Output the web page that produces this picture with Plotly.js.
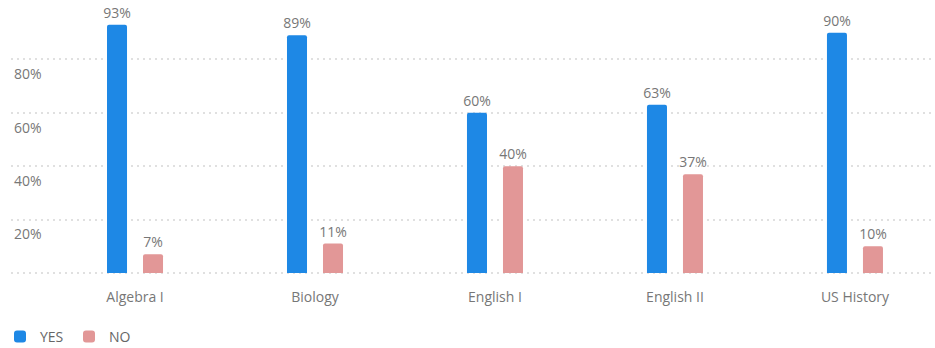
<!DOCTYPE html>
<html>
<head>
<meta charset="utf-8">
<script src="https://cdn.plot.ly/plotly-3.0.1.min.js"></script>
<style>
  html, body { margin: 0; padding: 0; background: #fff; }
  #chart { width: 935px; height: 348px; }
</style>
</head>
<body>
<div id="chart"></div>
<script>
const categories = ["Algebra I", "Biology", "English I", "English II", "US History"];
const yesValues = [93, 89, 60, 63, 90];
const noValues = [7, 11, 40, 37, 10];
const yTickVals = [0, 20, 40, 60, 80];
const yTickText = ["", "20%", "40%", "60%", "80%"];

const textFont = { family: "Open Sans, sans-serif", size: 14, color: "#777777" };

const traces = [
  {
    type: "bar", name: "YES", x: categories, y: yesValues,
    marker: { color: "#1e88e5" },
    text: yesValues.map(v => v + "%"), textposition: "outside", textfont: textFont,
    constraintext: "none", cliponaxis: false, hoverinfo: "none"
  },
  {
    type: "bar", name: "NO", x: categories, y: noValues,
    marker: { color: "#e29797" },
    text: noValues.map(v => v + "%"), textposition: "outside", textfont: textFont,
    constraintext: "none", cliponaxis: false, hoverinfo: "none"
  }
];

const layout = {
  width: 935, height: 348,
  margin: { l: 11, r: 3, t: 6, b: 74, autoexpand: false },
  paper_bgcolor: "#ffffff", plot_bgcolor: "#ffffff",
  font: { family: "Open Sans, sans-serif", size: 14, color: "#777777" },
  barmode: "group",
  bargap: 0.6,
  bargroupgap: 0.444,
  barcornerradius: 2,
  showlegend: true,
  legend: {
    orientation: "h", xref: "container", yref: "container",
    x: 0, y: 0.0316, xanchor: "left", yanchor: "middle",
    font: { family: "Open Sans, sans-serif", size: 14, color: "#666666" },
    entrywidth: 24, entrywidthmode: "pixels",
    traceorder: "normal"
  },
  xaxis: {
    type: "category",
    range: [-0.689, 4.428],
    showgrid: false, zeroline: false, showline: false,
    ticks: "", tickfont: { family: "Open Sans, sans-serif", size: 14, color: "#777777" },
    ticklabelstandoff: 13
  },
  yaxis: {
    range: [-0.4, 100],
    tickvals: yTickVals, ticktext: yTickText,
    showgrid: true, gridcolor: "#e0e0e0", gridwidth: 2, griddash: "2px,4px",
    zeroline: false, showline: false, ticks: "",
    ticklabelposition: "inside",
    ticklabelshift: 15,
    ticklabelstandoff: 0,
    tickfont: { family: "Open Sans, sans-serif", size: 14, color: "#777777" }
  }
};

Plotly.newPlot("chart", traces, layout, { displayModeBar: false, staticPlot: true });
</script>
</body>
</html>
